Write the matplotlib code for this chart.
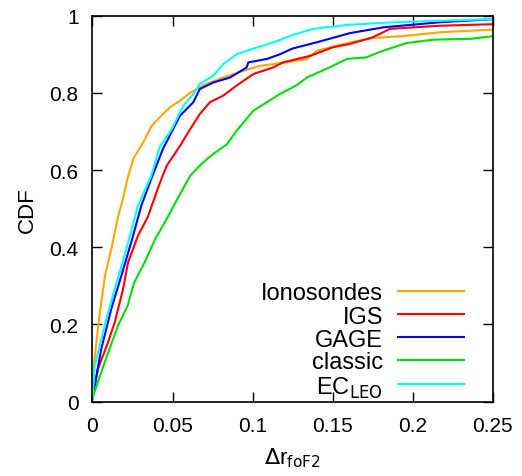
import matplotlib
matplotlib.use("Agg")
from matplotlib import pyplot as plt

plt.rcParams['font.family'] = ['Liberation Sans', 'DejaVu Sans']

## values (x = delta r_foF2, y = CDF)
iono_x = [0, 0.001, 0.0036, 0.0057, 0.0078, 0.012, 0.016, 0.019, 0.022, 0.0255, 0.0317, 0.037, 0.042, 0.0484,
          0.0547, 0.061, 0.069, 0.0817, 0.094, 0.1046, 0.121, 0.134, 0.14, 0.161, 0.175, 0.196, 0.217, 0.25]
iono_y = [0.01, 0.10, 0.197, 0.266, 0.326, 0.40, 0.48, 0.525, 0.58, 0.629, 0.672, 0.715, 0.737, 0.763,
          0.78, 0.80, 0.82, 0.84, 0.857, 0.87, 0.879, 0.888, 0.909, 0.931, 0.942, 0.948, 0.957, 0.964]

igs_x = [0, 0.0034, 0.0097, 0.0139, 0.019, 0.0222, 0.0284, 0.0347, 0.041, 0.0463, 0.0547, 0.061, 0.067,
         0.0734, 0.0817, 0.090, 0.1005, 0.113, 0.119, 0.136, 0.150, 0.161, 0.175, 0.186, 0.217, 0.25]
igs_y = [0.01, 0.085, 0.154, 0.206, 0.29, 0.361, 0.43, 0.48, 0.555, 0.611, 0.663, 0.706, 0.745,
         0.776, 0.793, 0.819, 0.849, 0.866, 0.879, 0.896, 0.918, 0.927, 0.944, 0.966, 0.974, 0.978]

gage_x = [0, 0.0055, 0.0117, 0.018, 0.0242, 0.0305, 0.0367, 0.044, 0.0547, 0.063, 0.067, 0.0755,
          0.086, 0.0963, 0.0973, 0.109, 0.117, 0.125, 0.14, 0.161, 0.182, 0.217, 0.25]
gage_y = [0.01, 0.137, 0.24, 0.326, 0.413, 0.508, 0.577, 0.655, 0.741, 0.776, 0.81, 0.827,
          0.84, 0.866, 0.879, 0.888, 0.90, 0.915, 0.931, 0.955, 0.97, 0.983, 0.991]

classic_x = [0, 0.0076, 0.0159, 0.022, 0.026, 0.0326, 0.039, 0.0463, 0.053, 0.061, 0.068, 0.0755, 0.084,
             0.090, 0.1005, 0.109, 0.117, 0.1276, 0.134, 0.148, 0.159, 0.171, 0.18, 0.196, 0.213, 0.236, 0.25]
classic_y = [0.01, 0.102, 0.197, 0.249, 0.309, 0.361, 0.42, 0.473, 0.525, 0.585, 0.616, 0.642, 0.667,
             0.702, 0.754, 0.776, 0.797, 0.82, 0.84, 0.866, 0.888, 0.892, 0.907, 0.929, 0.938, 0.94, 0.947]

ecleo_x = [0, 0.0014, 0.0076, 0.0139, 0.020, 0.0284, 0.0367, 0.042, 0.0495, 0.0567, 0.063, 0.067,
           0.0755, 0.0817, 0.090, 0.100, 0.113, 0.125, 0.138, 0.159, 0.188, 0.25]
ecleo_y = [0.01, 0.093, 0.197, 0.292, 0.378, 0.508, 0.585, 0.66, 0.706, 0.767, 0.797, 0.823,
           0.845, 0.875, 0.90, 0.914, 0.931, 0.95, 0.966, 0.976, 0.983, 0.991]

labels = ["Ionosondes", "IGS", "GAGE", "classic", r"EC$_{\mathrm{LEO}}$"]
colors = ["#ffa500", "#ff0000", "#0000ff", "#00e000", "#00ffff"]
series = [(iono_x, iono_y), (igs_x, igs_y), (gage_x, gage_y), (classic_x, classic_y), (ecleo_x, ecleo_y)]

fig = plt.figure(figsize=(5.22, 4.77), dpi=100)
ax = fig.add_axes([0.1772, 0.1558, 0.7667, 0.8092])

for (xs, ys), c in zip(series, colors):
    ax.plot(xs, ys, color=c, lw=1.5)

ax.set_xlim(0, 0.25)
ax.set_ylim(0, 1)
ax.set_xticks([0, 0.05, 0.1, 0.15, 0.2, 0.25])
ax.set_xticklabels(["0", "0.05", "0.1", "0.15", "0.2", "0.25"])
ax.set_yticks([0, 0.2, 0.4, 0.6, 0.8, 1])
ax.set_yticklabels(["0", "0.2", "0.4", "0.6", "0.8", "1"])
ax.tick_params(direction='in', length=7, width=1, top=True, right=True, labelsize=15, pad=10)
for s in ax.spines.values():
    s.set_linewidth(1.2)
ax.set_xlabel(r"$\Delta$r$_{\mathrm{foF2}}$", fontsize=16, labelpad=8)
ax.set_ylabel("CDF", fontsize=16, labelpad=8)

# legend drawn by hand, text left of line like gnuplot
row_y = [0.2876, 0.227, 0.167, 0.109, 0.046]
for lab, c, yy in zip(labels, colors, row_y):
    ax.text(0.726, yy, lab, transform=ax.transAxes, ha='right', va='center_baseline', fontsize=17)
    ax.plot([0.763, 0.928], [yy, yy], transform=ax.transAxes, color=c, lw=1.5)

fig.savefig("out.png", dpi=100)
